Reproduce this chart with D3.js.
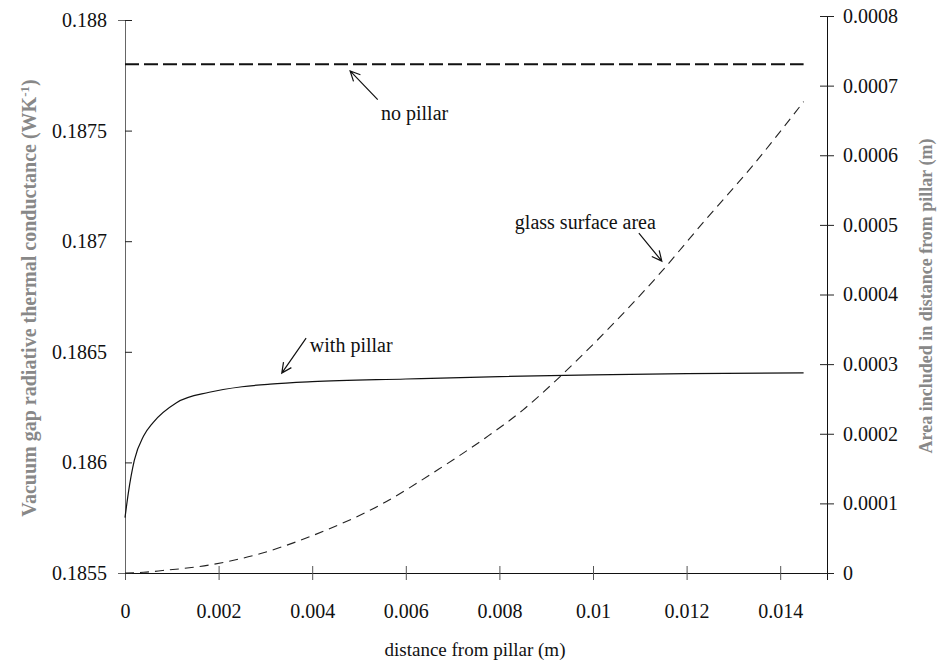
<!DOCTYPE html>
<html>
<head>
<meta charset="utf-8">
<script src="https://cdn.jsdelivr.net/npm/d3@7"></script>
<style>
  body { margin: 0; background: #fff; }
  svg text { font-family: "Liberation Serif", "Times New Roman", serif; }
</style>
</head>
<body>
<div id="canvas"></div>
<script>
// data
const distWith = [0, 0.00007, 0.0002, 0.0004, 0.0006, 0.0011, 0.0018, 0.0025, 0.0031, 0.004, 0.006, 0.008, 0.010, 0.012, 0.0145];
const condWith = [0.18575, 0.18586, 0.18601, 0.18612, 0.18618, 0.18627, 0.186317, 0.186342, 0.186354, 0.186365, 0.186377, 0.186388, 0.186396, 0.186401, 0.186405];

const distNo = [0, 0.0145];
const condNo = [0.1878, 0.1878];

const distArea = [0, 0.0004, 0.0008, 0.0018, 0.0029, 0.004, 0.0055, 0.0067, 0.0077, 0.0085, 0.0092, 0.0101, 0.0114, 0.0124, 0.0134, 0.0145];
const areaVals = [0, 0.000001, 0.0000035, 0.0000115, 0.000028, 0.0000535, 0.0000995, 0.000149, 0.000194, 0.000234, 0.000276, 0.000335, 0.000428, 0.000507, 0.000584, 0.000677];

const xTicks = [0, 0.002, 0.004, 0.006, 0.008, 0.01, 0.012, 0.014];
const leftTicks = [0.1855, 0.186, 0.1865, 0.187, 0.1875, 0.188];
const rightTicks = [0, 0.0001, 0.0002, 0.0003, 0.0004, 0.0005, 0.0006, 0.0007, 0.0008];

const width = 939;
const height = 662;

const svg = d3.select("#canvas").append("svg")
  .attr("width", width)
  .attr("height", height);

const x = d3.scaleLinear().domain([0, 0.015]).range([125, 827]);
const yL = d3.scaleLinear().domain([0.1855, 0.188]).range([573, 20]);
const yR = d3.scaleLinear().domain([0, 0.0008]).range([573, 16]);

const fmt = d => String(d);

// axes
const xAxis = svg.append("g")
  .attr("transform", `translate(0,${yL(0.1855)})`)
  .call(d3.axisBottom(x).tickValues(xTicks).tickFormat(fmt).tickSizeOuter(0).tickSize(7).tickPadding(24));
xAxis.select(".domain").attr("stroke", "#111");
xAxis.selectAll(".tick line").attr("y1", -7).attr("stroke", "#555");

const leftAxis = svg.append("g")
  .attr("transform", `translate(${x(0)},0)`)
  .call(d3.axisLeft(yL).tickValues(leftTicks).tickFormat(fmt).tickSizeOuter(0).tickSize(7).tickPadding(11));
leftAxis.select(".domain").attr("stroke", "#666");
leftAxis.selectAll(".tick line").attr("x2", 7).attr("stroke", "#222");

const rightAxis = svg.append("g")
  .attr("transform", `translate(${x(0.015)},0)`)
  .call(d3.axisRight(yR).tickValues(rightTicks).tickFormat(fmt).tickSizeOuter(0).tickSize(7).tickPadding(9));
rightAxis.select(".domain").attr("stroke", "#111");
rightAxis.selectAll(".tick line").attr("x1", -7).attr("stroke", "#222");

svg.selectAll(".tick text")
  .attr("font-family", "Liberation Serif, Times New Roman, serif")
  .attr("font-size", 20)
  .attr("fill", "#111");

// lines
const lineL = d3.line().x(d => x(d[0])).y(d => yL(d[1])).curve(d3.curveMonotoneX);
const lineR = d3.line().x(d => x(d[0])).y(d => yR(d[1])).curve(d3.curveMonotoneX);

svg.append("path")
  .datum(distNo.map((d, i) => [d, condNo[i]]))
  .attr("d", lineL)
  .attr("fill", "none")
  .attr("stroke", "#111")
  .attr("stroke-width", 1.8)
  .attr("stroke-dasharray", "14,5");

svg.append("path")
  .datum(distWith.map((d, i) => [d, condWith[i]]))
  .attr("d", lineL)
  .attr("fill", "none")
  .attr("stroke", "#111")
  .attr("stroke-width", 1.2);

svg.append("path")
  .datum(distArea.map((d, i) => [d, areaVals[i]]))
  .attr("d", lineR)
  .attr("fill", "none")
  .attr("stroke", "#222")
  .attr("stroke-width", 1.1)
  .attr("stroke-dasharray", "9,6");

// annotations: text + open arrow
function arrow(x1, y1, x2, y2) {
  const a = Math.atan2(y2 - y1, x2 - x1);
  const h = 11, s = 0.45;
  svg.append("path")
    .attr("d", `M${x1},${y1}L${x2},${y2}` +
      `M${x2 - h * Math.cos(a - s)},${y2 - h * Math.sin(a - s)}L${x2},${y2}` +
      `L${x2 - h * Math.cos(a + s)},${y2 - h * Math.sin(a + s)}`)
    .attr("fill", "none")
    .attr("stroke", "#111")
    .attr("stroke-width", 1.2);
}

arrow(x(0.0054), yL(0.18764), x(0.00481), yL(0.18777));
svg.append("text").attr("x", x(0.00547)).attr("y", yL(0.18755))
  .attr("font-size", 20).attr("fill", "#111").text("no pillar");

arrow(x(0.00387), yL(0.186562), x(0.00335), yL(0.186404));
svg.append("text").attr("x", x(0.00395)).attr("y", yL(0.186499))
  .attr("font-size", 20).attr("fill", "#111").text("with pillar");

arrow(x(0.01098), yR(0.000488), x(0.01147), yR(0.000448));
svg.append("text").attr("x", x(0.00833)).attr("y", yR(0.000494))
  .attr("font-size", 20).attr("fill", "#111").text("glass surface area");

// axis titles
svg.append("text")
  .attr("x", 475)
  .attr("y", 656)
  .attr("text-anchor", "middle")
  .attr("font-size", 19)
  .attr("fill", "#111")
  .text("distance from pillar (m)");

const lt = svg.append("text")
  .attr("transform", `translate(36,298) rotate(-90)`)
  .attr("text-anchor", "middle")
  .attr("font-size", 20)
  .attr("font-weight", "bold")
  .attr("fill", "#888");
lt.append("tspan").text("Vacuum gap radiative thermal conductance (WK");
lt.append("tspan").attr("dy", -7).attr("font-size", 13).text("-1");
lt.append("tspan").attr("dy", 7).text(")");

svg.append("text")
  .attr("transform", `translate(932,296) rotate(-90)`)
  .attr("text-anchor", "middle")
  .attr("font-size", 18)
  .attr("font-weight", "bold")
  .attr("fill", "#888")
  .text("Area included in distance from pillar (m)");
</script>
</body>
</html>
